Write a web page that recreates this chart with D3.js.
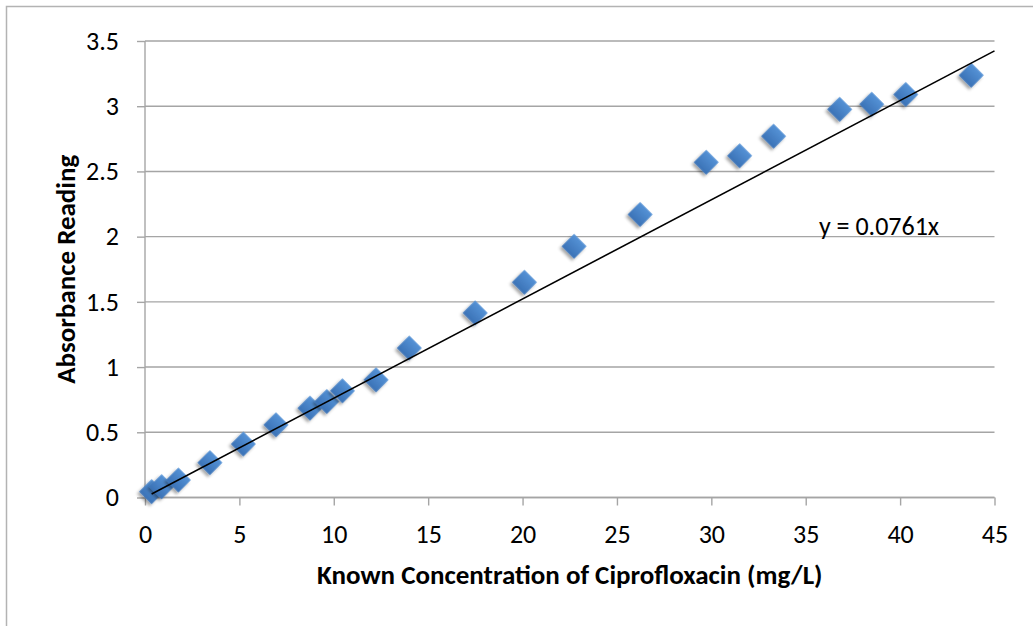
<!DOCTYPE html>
<html>
<head>
<meta charset="utf-8">
<script src="https://cdn.jsdelivr.net/npm/d3@7"></script>
<style>
  body { margin: 0; background: #fff; }
  svg { display: block; font-family: Carlito, Calibri, Lato, sans-serif; }
</style>
</head>
<body>
<div id="chart-container"></div>
<script>
// readings taken off the calibration chart
const concentration = [0.35, 0.88, 1.77, 3.44, 5.21, 6.94, 8.74, 9.63, 10.46, 12.24, 14.0,
  17.49, 20.1, 22.73, 26.23, 29.73, 31.5, 33.3, 36.8, 38.5, 40.3, 43.77];
const absorbance = [0.045, 0.083, 0.134, 0.267, 0.41, 0.557, 0.685, 0.736, 0.818, 0.902, 1.146,
  1.415, 1.65, 1.926, 2.17, 2.57, 2.62, 2.77, 2.976, 3.015, 3.09, 3.237];
const xTicks = [0, 5, 10, 15, 20, 25, 30, 35, 40, 45];
const yTicks = [0, 0.5, 1, 1.5, 2, 2.5, 3, 3.5];
const slope = 0.0761;
const trendLabel = 'y = 0.0761x';
const xTitle = 'Known Concentration of Ciprofloxacin (mg/L)';
const yTitle = 'Absorbance Reading';

const width = 1033, height = 626;
const margin = {left: 145, right: 38.5, top: 41, bottom: 128.5};
const innerWidth = width - margin.left - margin.right;
const innerHeight = height - margin.top - margin.bottom;
const gridColor = '#a5a5a5';
const fontSize = 26;
const titleSize = 27;

const svg = d3.select('#chart-container').append('svg')
  .attr('width', width)
  .attr('height', height);

// marker fill + soft shadow
const defs = svg.append('defs');
const grad = defs.append('linearGradient')
  .attr('id', 'marker-fill')
  .attr('x1', 0).attr('y1', 0).attr('x2', 0).attr('y2', 1);
grad.append('stop').attr('offset', '0%').attr('stop-color', '#5592d6');
grad.append('stop').attr('offset', '100%').attr('stop-color', '#3a72b6');
const shadow = defs.append('filter')
  .attr('id', 'marker-shadow')
  .attr('x', '-50%').attr('y', '-50%').attr('width', '200%').attr('height', '200%');
shadow.append('feDropShadow')
  .attr('dx', 0).attr('dy', 3)
  .attr('stdDeviation', 1.8)
  .attr('flood-color', '#000')
  .attr('flood-opacity', 0.35);

// outer chart frame (only left and top edges are in view)
svg.append('path')
  .attr('d', 'M 6.5 ' + height + ' L 6.5 6.5 L ' + width + ' 6.5')
  .attr('fill', 'none')
  .attr('stroke', '#b3b3b3')
  .attr('stroke-width', 1.5);

const x = d3.scaleLinear()
  .domain([0, 45])
  .range([0, innerWidth]);
const y = d3.scaleLinear()
  .domain([0, 3.5])
  .range([innerHeight, 0]);

const g = svg.append('g')
  .attr('transform', 'translate(' + margin.left + ',' + margin.top + ')');

// horizontal gridlines
g.append('g')
  .selectAll('line')
  .data(yTicks)
  .enter().append('line')
  .attr('x1', 0)
  .attr('x2', innerWidth)
  .attr('y1', d => y(d))
  .attr('y2', d => y(d))
  .attr('stroke', gridColor)
  .attr('stroke-width', 1.4);

//x-y axis generators
const yAxis = d3.axisLeft(y)
  .tickValues(yTicks)
  .tickSize(8)
  .tickPadding(18)
  .tickFormat(d3.format('~g'));
const xAxis = d3.axisBottom(x)
  .tickValues(xTicks)
  .tickSize(8)
  .tickPadding(19)
  .tickFormat(d3.format('d'));

const yAxisG = g.append('g').attr('class', 'y-axis').call(yAxis);
const xAxisG = g.append('g')
  .attr('class', 'x-axis')
  .attr('transform', 'translate(0,' + innerHeight + ')')
  .call(xAxis);

[yAxisG, xAxisG].forEach(a => {
  a.attr('font-size', null).attr('font-family', null);
  a.select('.domain').attr('stroke', gridColor).attr('stroke-width', 1.4);
  a.selectAll('.tick line').attr('stroke', gridColor).attr('stroke-width', 1.4);
  a.selectAll('.tick text')
    .attr('fill', '#000')
    .style('font-size', fontSize + 'px');
});
yAxisG.select('.domain').attr('d', 'M0,' + innerHeight + 'V0');
xAxisG.select('.domain').attr('d', 'M0,0H' + innerWidth);

// points
const diamond = d3.symbol().type(d3.symbolSquare).size(310);
g.append('g')
  .selectAll('path')
  .data(concentration)
  .enter().append('path')
  .attr('d', diamond)
  .attr('transform', (d, i) => 'translate(' + x(d) + ',' + y(absorbance[i]) + ') rotate(45)')
  .attr('fill', 'url(#marker-fill)')
  .attr('filter', 'url(#marker-shadow)');

// linear trendline through the origin
const xMin = d3.min(concentration);
const trend = [xMin, 45].map(v => ({x: v, y: slope * v}));
const line = d3.line()
  .x(d => x(d.x))
  .y(d => y(d.y));
g.append('path')
  .attr('d', line(trend))
  .attr('fill', 'none')
  .attr('stroke', '#000')
  .attr('stroke-width', 1.6);

g.append('text')
  .attr('x', x(35.7))
  .attr('y', y(2.0) - 1.5)
  .style('font-size', fontSize + 'px')
  .text(trendLabel);

//Titles
svg.append('text')
  .attr('x', margin.left + innerWidth / 2)
  .attr('y', 584)
  .attr('text-anchor', 'middle')
  .style('font-size', titleSize + 'px')
  .style('font-weight', 'bold')
  .text(xTitle);
svg.append('text')
  .attr('transform', 'translate(75,' + (margin.top + innerHeight / 2) + ') rotate(-90)')
  .attr('text-anchor', 'middle')
  .style('font-size', titleSize + 'px')
  .style('font-weight', 'bold')
  .text(yTitle);
</script>
</body>
</html>
